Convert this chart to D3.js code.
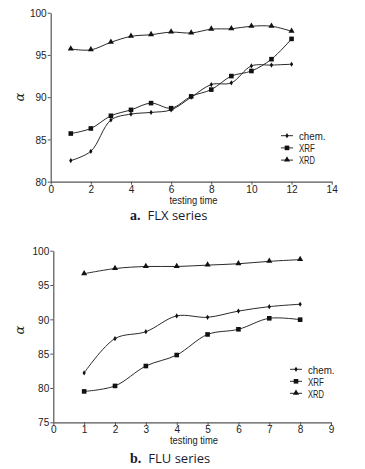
<!DOCTYPE html>
<html>
<head>
<meta charset="utf-8">
<script src="https://cdn.jsdelivr.net/npm/d3@7"></script>
<style>
  body { margin: 0; background: #fff; }
  svg text { font-family: "Liberation Sans", Arial, sans-serif; fill: #222; }
</style>
</head>
<body>
<script>
"use strict";
(function(){

    // FLX series (top panel)
    const flxTimes = [1, 2, 3, 4, 5, 6, 7, 8, 9, 10, 11, 12]
    const flxChem = [82.5, 83.6, 87.3, 88.0, 88.2, 88.5, 90.0, 91.5, 91.7, 93.7, 93.8, 93.9]
    const flxXrf = [85.7, 86.3, 87.8, 88.5, 89.3, 88.7, 90.1, 90.9, 92.5, 93.1, 94.5, 96.9]
    const flxXrd = [95.7, 95.6, 96.5, 97.2, 97.4, 97.7, 97.6, 98.05, 98.1, 98.4, 98.4, 97.8]
    const flxXTicks = [0, 2, 4, 6, 8, 10, 12, 14]
    const flxYTicks = [80, 85, 90, 95, 100]

    // FLU series (bottom panel)
    const fluTimes = [1, 2, 3, 4, 5, 6, 7, 8]
    const fluChem = [82.2, 87.2, 88.2, 90.5, 90.3, 91.2, 91.85, 92.2]
    const fluXrf = [79.5, 80.3, 83.2, 84.8, 87.8, 88.55, 90.15, 89.95]
    const fluXrd = [96.65, 97.4, 97.7, 97.7, 97.9, 98.1, 98.45, 98.7]
    const fluXTicks = [0, 1, 2, 3, 4, 5, 6, 7, 8, 9]
    const fluYTicks = [75, 80, 85, 90, 95, 100]

    const seriesNames = ["chem.", "XRF", "XRD"]
    const markers = { "chem.": "diamond", "XRF": "square", "XRD": "triangle" }
    const ink = "#2a2a2a"

    const svg = d3.select("body").append("svg")
        .attr("width", 365)
        .attr("height", 469)

    const panels = [
        {
            times: flxTimes, values: [flxChem, flxXrf, flxXrd],
            xTicks: flxXTicks, yTicks: flxYTicks,
            x0: 50.7, x1: 331.7, y0: 12.7, y1: 181.7,
            legend: { x: 281, y: 135.7, gap: 12.2 },
            xLabelX: 193.5, xLabelY: 204, alphaY: 97,
            titleY: 220, letter: "a.", name: "FLX series"
        },
        {
            times: fluTimes, values: [fluChem, fluXrf, fluXrd],
            xTicks: fluXTicks, yTicks: fluYTicks,
            x0: 53.3, x1: 331, y0: 250.7, y1: 422.3,
            legend: { x: 290, y: 369.3, gap: 12 },
            xLabelX: 194, xLabelY: 444, alphaY: 330,
            titleY: 462.5, letter: "b.", name: "FLU series"
        }
    ]

    // narrow look: squeeze the text to a fixed width per character
    function narrow(sel, perChar) {
        sel.attr("textLength", function() { return this.textContent.length * perChar })
            .attr("lengthAdjust", "spacingAndGlyphs")
    }

    function drawMarker(g, type, cx, cy) {
        if (type === "square") {
            g.append("rect")
                .attr("x", cx - 2.3).attr("y", cy - 2.3)
                .attr("width", 4.6).attr("height", 4.6)
                .attr("fill", "#111")
        } else if (type === "triangle") {
            g.append("path")
                .attr("d", d3.symbol(d3.symbolTriangle, 16)())
                .attr("transform", "translate(" + cx + "," + (cy - 0.3) + ")")
                .attr("fill", "#111")
        } else {
            g.append("path")
                .attr("d", "M0,-2.6L1.6,0L0,2.6L-1.6,0Z")
                .attr("transform", "translate(" + cx + "," + cy + ")")
                .attr("fill", "#111")
        }
    }

    panels.forEach(function(p) {
        const xMax = p.xTicks[p.xTicks.length - 1]
        const scaleX = d3.scaleLinear()
            .domain([0, xMax])
            .range([p.x0, p.x1])
        const scaleY = d3.scaleLinear()
            .domain([p.yTicks[0], p.yTicks[p.yTicks.length - 1]])
            .range([p.y1, p.y0])

        const xAxis = d3.axisBottom(scaleX)
            .tickValues(p.xTicks)
            .tickSize(3)
            .tickSizeOuter(0)
            .tickPadding(0)
        const yAxis = d3.axisLeft(scaleY)
            .tickValues(p.yTicks)
            .tickSize(3)
            .tickSizeOuter(0)
            .tickPadding(1)

        const gx = svg.append("g")
            .attr("transform", "translate(0," + p.y1 + ")")
            .call(xAxis)
        const gy = svg.append("g")
            .attr("transform", "translate(" + p.x0 + ",0)")
            .call(yAxis)

        ;[gx, gy].forEach(function(g) {
            g.select(".domain").attr("stroke", "#555").attr("stroke-width", 1.2)
            g.selectAll(".tick line").attr("stroke", "#555")
            g.selectAll(".tick text")
                .attr("fill", "#333")
                .style("font-size", "11.5px")
                .style("font-family", "'Liberation Sans', Arial, sans-serif")
                .call(narrow, 5.6)
        })

        const line = d3.line()
            .x((d, i) => scaleX(p.times[i]))
            .y(d => scaleY(d))
            .curve(d3.curveCatmullRom.alpha(0.5))

        p.values.forEach(function(vals, s) {
            svg.append("path")
                .datum(vals)
                .attr("d", line)
                .attr("fill", "none")
                .attr("stroke", ink)
                .attr("stroke-width", 1)
            const mg = svg.append("g")
            vals.forEach(function(v, i) {
                drawMarker(mg, markers[seriesNames[s]], scaleX(p.times[i]), scaleY(v))
            })
        })

        // legend
        seriesNames.forEach(function(name, i) {
            const ly = p.legend.y + i * p.legend.gap
            svg.append("line")
                .attr("x1", p.legend.x).attr("x2", p.legend.x + 12)
                .attr("y1", ly).attr("y2", ly)
                .attr("stroke", ink)
            drawMarker(svg, markers[name], p.legend.x + 6, ly)
            svg.append("text")
                .attr("x", p.legend.x + 18)
                .attr("y", ly + 4.2)
                .style("font-size", "11.5px")
                .text(name)
                .call(narrow, 5.3)
        })

        svg.append("text")
            .attr("x", p.xLabelX)
            .attr("y", p.xLabelY)
            .attr("text-anchor", "middle")
            .style("font-size", "11px")
            .text("testing time")
            .call(narrow, 4.0)

        svg.append("text")
            .attr("transform", "translate(24," + p.alphaY + ")rotate(-90)")
            .attr("text-anchor", "middle")
            .style("font-family", "'DejaVu Serif', 'Liberation Serif', serif")
            .style("font-style", "italic")
            .style("font-size", "13px")
            .text("α")

        const title = svg.append("text")
            .attr("x", 130)
            .attr("y", p.titleY)
        title.append("tspan")
            .style("font-family", "'Liberation Serif', serif")
            .style("font-weight", "bold")
            .style("font-size", "14px")
            .attr("fill", "#1a1a2e")
            .text(p.letter)
        title.append("tspan")
            .attr("dx", 7)
            .style("font-family", "'Open Sans', 'Lato', sans-serif")
            .style("font-size", "13px")
            .attr("fill", "#1a1a2e")
            .text(p.name)
    })
})()
</script>
</body>
</html>
